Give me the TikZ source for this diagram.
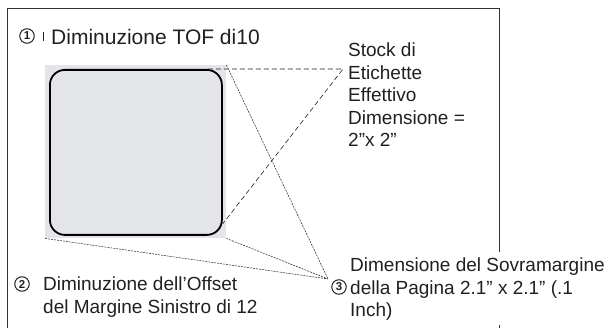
\documentclass[tikz,border=0pt]{standalone}
\usepackage{fontspec}
\setmainfont{Liberation Sans}
\usetikzlibrary{positioning}
\definecolor{lblgray}{HTML}{E3E5E9}
\definecolor{inkgray}{HTML}{231F20}
\tikzset{
  callout/.style={font=\fontsize{19}{22.5}\selectfont, text=inkgray, align=left, inner sep=0pt, anchor=north west},
  numcirc/.style={circle, draw=inkgray, line width=1pt, inner sep=0pt, minimum size=14.5pt, font=\fontsize{11.5}{11.5}\selectfont\bfseries, text=inkgray},
  guide/.style={dash pattern=on 5pt off 3pt, line width=0.6pt, draw=inkgray},
  ray/.style={dash pattern=on 2pt off 1pt, line width=0.5pt, draw=inkgray},
  frame/.style={line width=1pt, draw=black!80}
}

\begin{document}
\begin{tikzpicture}[x=1pt,y=-1pt]
  \useasboundingbox (0,0) rectangle (609,328);
  % page frame, open at the bottom
  \coordinate (fbl) at (7,328);
  \coordinate (ftl) at (7,9);
  \coordinate (ftr) at (499,9);
  \coordinate (fgap) at (499,252);
  \coordinate (fgapend) at (499,325);
  \coordinate (fbr) at (499,328);
  \draw[frame] (fbl) -- (ftl) -- (ftr) -- (fgap);
  \draw[frame] (fgapend) -- (fbr);

  % label on the overmargin area
  \node[fill=lblgray, minimum width=181pt, minimum height=173pt, inner sep=0pt, anchor=north west] (stock) at (45,65) {};
  \node[draw=black, line width=1.8pt, rounded corners=15pt, fill=lblgray, minimum width=172pt, minimum height=165pt, inner sep=0pt, anchor=north west] (label) at (49,69) {};

  \coordinate (stk) at (343,69);
  \coordinate (ovr) at (328,279);

  \node[numcirc] (n1) at (27,36) {1};
  \draw[inkgray, line width=0.5pt] (43,32) -- (43,41);
  \node[font=\fontsize{21}{25}\selectfont, text=inkgray, anchor=base west, inner sep=0pt] (title) at (51,45) {Diminuzione TOF di10};

  \node[callout] (stocktxt) at (348,43) {Stock di\\Etichette\\Effettivo\\Dimensione =\\2”x 2”};

  \node[numcirc] (n2) at (22,284) {2};
  \node[callout] (offset) at (43,277) {Diminuzione dell’Offset\\del Margine Sinistro di 12};

  \node[numcirc] (n3) at (339,287) {3};
  \node[callout] (ovrtxt) at (350,258) {Dimensione del Sovramargine\\della Pagina 2.1” x 2.1” (.1\\Inch)};

  \draw[guide] ([xshift=-15pt]label.north east) -- (stk) -- ([yshift=12pt]label.south east);
  \draw[ray] (stock.north east) -- (ovr);
  \draw[ray] (stock.south east) -- (ovr);
  \draw[ray] (stock.south west) -- (ovr);
\end{tikzpicture}
\end{document}
